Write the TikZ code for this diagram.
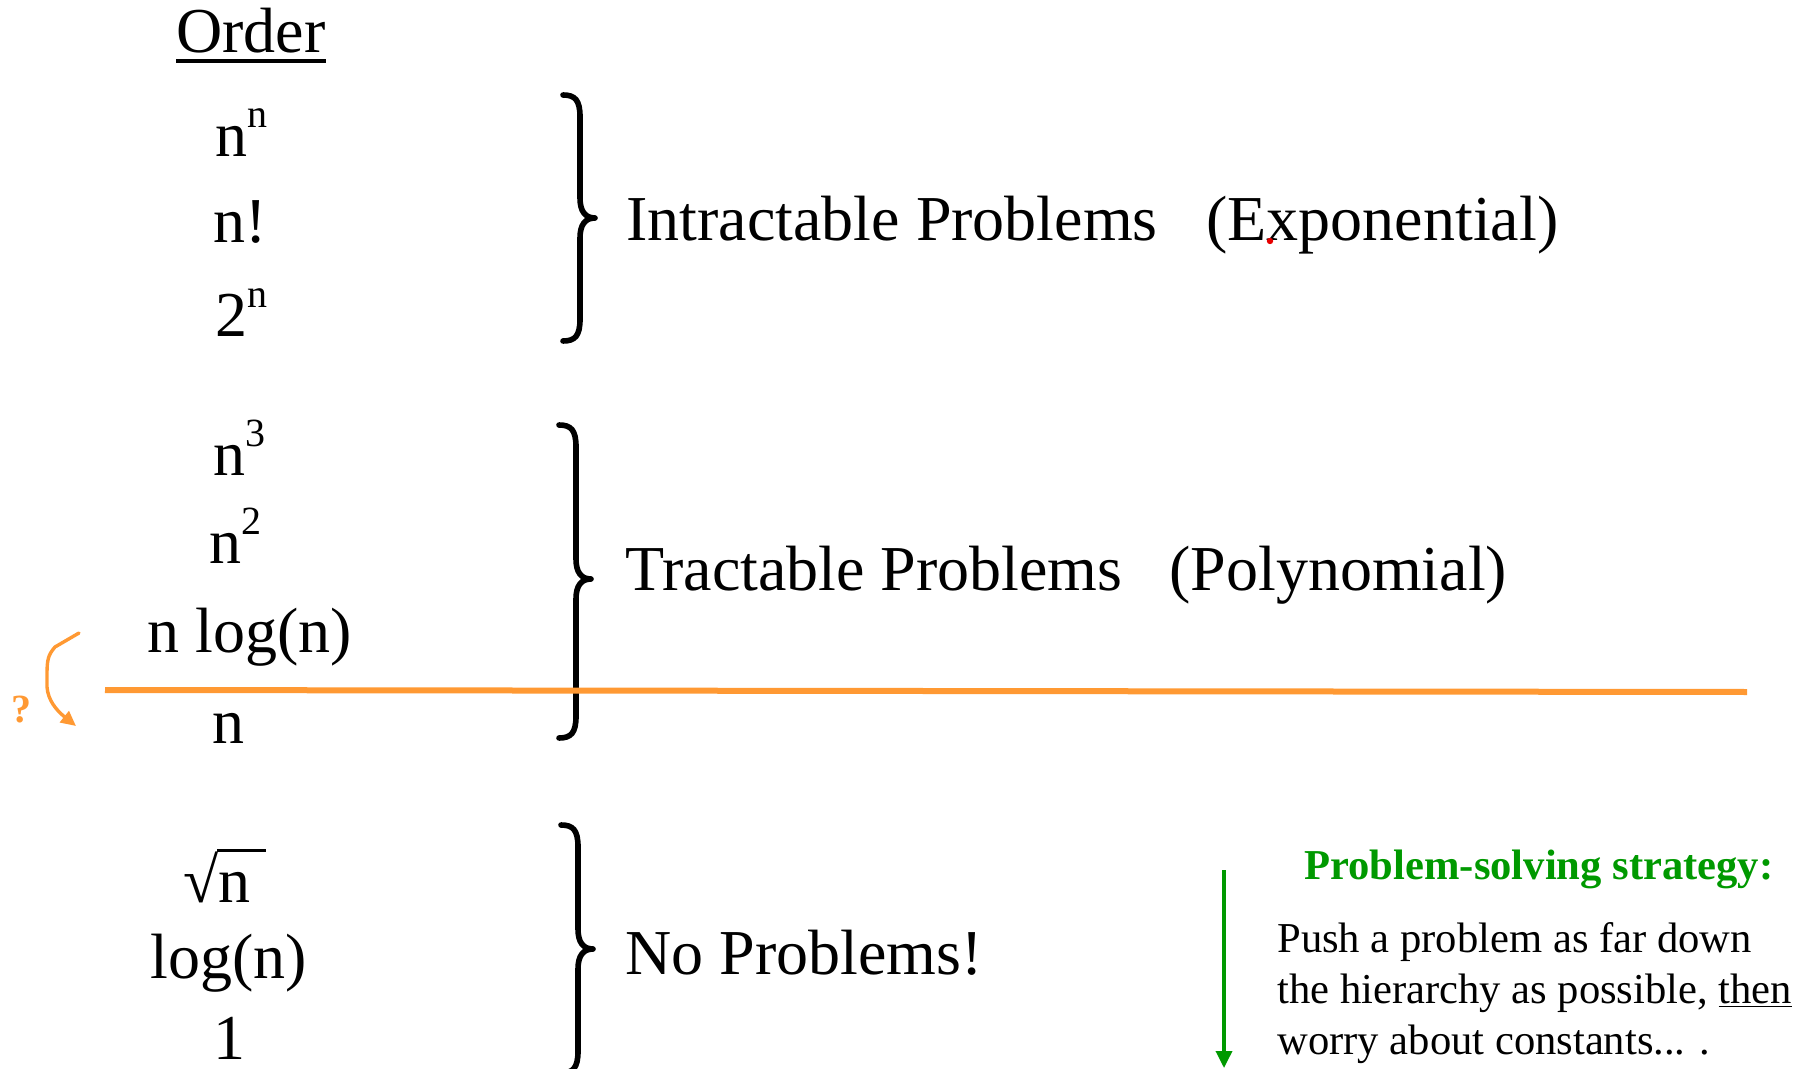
\documentclass[tikz,border=0pt]{standalone}
\usepackage{fontspec}
\setmainfont{Liberation Serif}
\usetikzlibrary{arrows.meta}

\definecolor{hotorange}{RGB}{255,153,51}
\definecolor{leafgreen}{RGB}{0,153,0}
\definecolor{dotred}{RGB}{230,0,0}

% curly brace: left x, top y, bottom y, tip y (stem 17 right of the hooks, tip 32 right)
\newcommand{\orderbrace}[4]{%
  \draw[bracestroke] (#1,#2) .. controls (#1+12,#2) and (#1+17,#2+5) .. (#1+17,#2+22)
    -- (#1+17,#4-20) .. controls (#1+17,#4-7) and (#1+22,#4) .. (#1+32,#4)
    .. controls (#1+22,#4) and (#1+17,#4+7) .. (#1+17,#4+20)
    -- (#1+17,#3-22) .. controls (#1+17,#3-5) and (#1+12,#3) .. (#1,#3);}

\newcommand{\supn}[1]{\raisebox{14.5pt}{\fontsize{20}{20}\selectfont #1}}

\begin{document}
\begin{tikzpicture}[x=0.5pt,y=-0.5pt,
  big/.style={anchor=base west,inner sep=0pt,font=\fontsize{32}{38}\selectfont},
  small/.style={anchor=base west,inner sep=0pt,font=\fontsize{21.3}{25.5}\selectfont},
  bracestroke/.style={line width=2.8pt,line cap=round,line join=round},
  cutline/.style={hotorange,line width=3pt},
  hint/.style={hotorange,line width=1.7pt,line cap=round,line join=round,-{Triangle[length=7.5pt,width=7pt]}},
  strategy/.style={leafgreen,line width=1.75pt,-{Triangle[length=8.5pt,width=8pt]}}]
\useasboundingbox (0,0) rectangle (1814,1069);

% column heading
\node[big] (order) at (176,53) {Order};
\draw[line width=1.75pt] ([yshift=-4pt]order.base west) -- ([yshift=-4pt]order.base east);

% growth rates, fastest first
\node[big] (nn)    at (215,157) {n\supn{n}};
\node[big] (nfac)  at (213,243) {n!};
\node[big] (twon)  at (215,337) {2\supn{n}};
\node[big] (ncube) at (213,475) {n\supn{3}};
\node[big] (nsq)   at (209,563) {n\supn{2}};
\node[big] (nlogn) at (147,652) {n log(n)};
\node[big] (lin)   at (212,743) {n};
\node[big] (root)  at (183,902) {√n};
\draw[line width=1.5pt] ([shift={(34,-52)}]root.base west) -- ([shift={(83,-52)}]root.base west);
\node[big] (logn)  at (150,978) {log(n)};
\node[big] (const) at (213,1059) {1};

% groups
\orderbrace{563}{95}{341}{218}
\orderbrace{559}{425}{738}{579}
\orderbrace{561}{825}{1073}{949}

\node[big] (intract) at (626,241) {Intractable Problems};
\node[big] (expo)    at (1206,241) {(Exponential)};
\fill[dotred] (1270,241) circle (1.6pt);
\node[big] (tract)   at (625,590) {Tractable Problems};
\node[big] (poly)    at (1169,590) {(Polynomial)};
\node[big] (noprob)  at (625,974) {No Problems!};

% the dividing line between n log(n) and n
\coordinate (cutL) at (105,690);
\coordinate (cutR) at (1747,692);
\draw[cutline] (cutL) -- (cutR);

% can n log(n) be pushed down to n?
\coordinate (qfrom) at (79,633);
\coordinate (qto) at (76,726);
\draw[hint] (qfrom) -- (55,647) .. controls (48,655) and (47,660) .. (47,675)
  -- (47,687) .. controls (48,700) and (56,710) .. (qto);
\node[anchor=base,inner sep=0pt,hotorange,font=\bfseries\fontsize{20}{24}\selectfont] (qmark) at (21,722) {?};

% strategy note
\coordinate (arrTop) at (1224,870);
\coordinate (arrBot) at (1224,1068);
\draw[strategy] (arrTop) -- (arrBot);
\node[small,leafgreen,font=\bfseries\fontsize{21.3}{25.5}\selectfont] (head) at (1304,879) {Problem-solving strategy:};
\node[small] (line1) at (1277,952) {Push a problem as far down};
\node[small] (line2) at (1277,1003) {the hierarchy as possible, \underline{then}};
\node[small] (line3) at (1277,1054) {worry about constants... .};
\end{tikzpicture}
\end{document}
